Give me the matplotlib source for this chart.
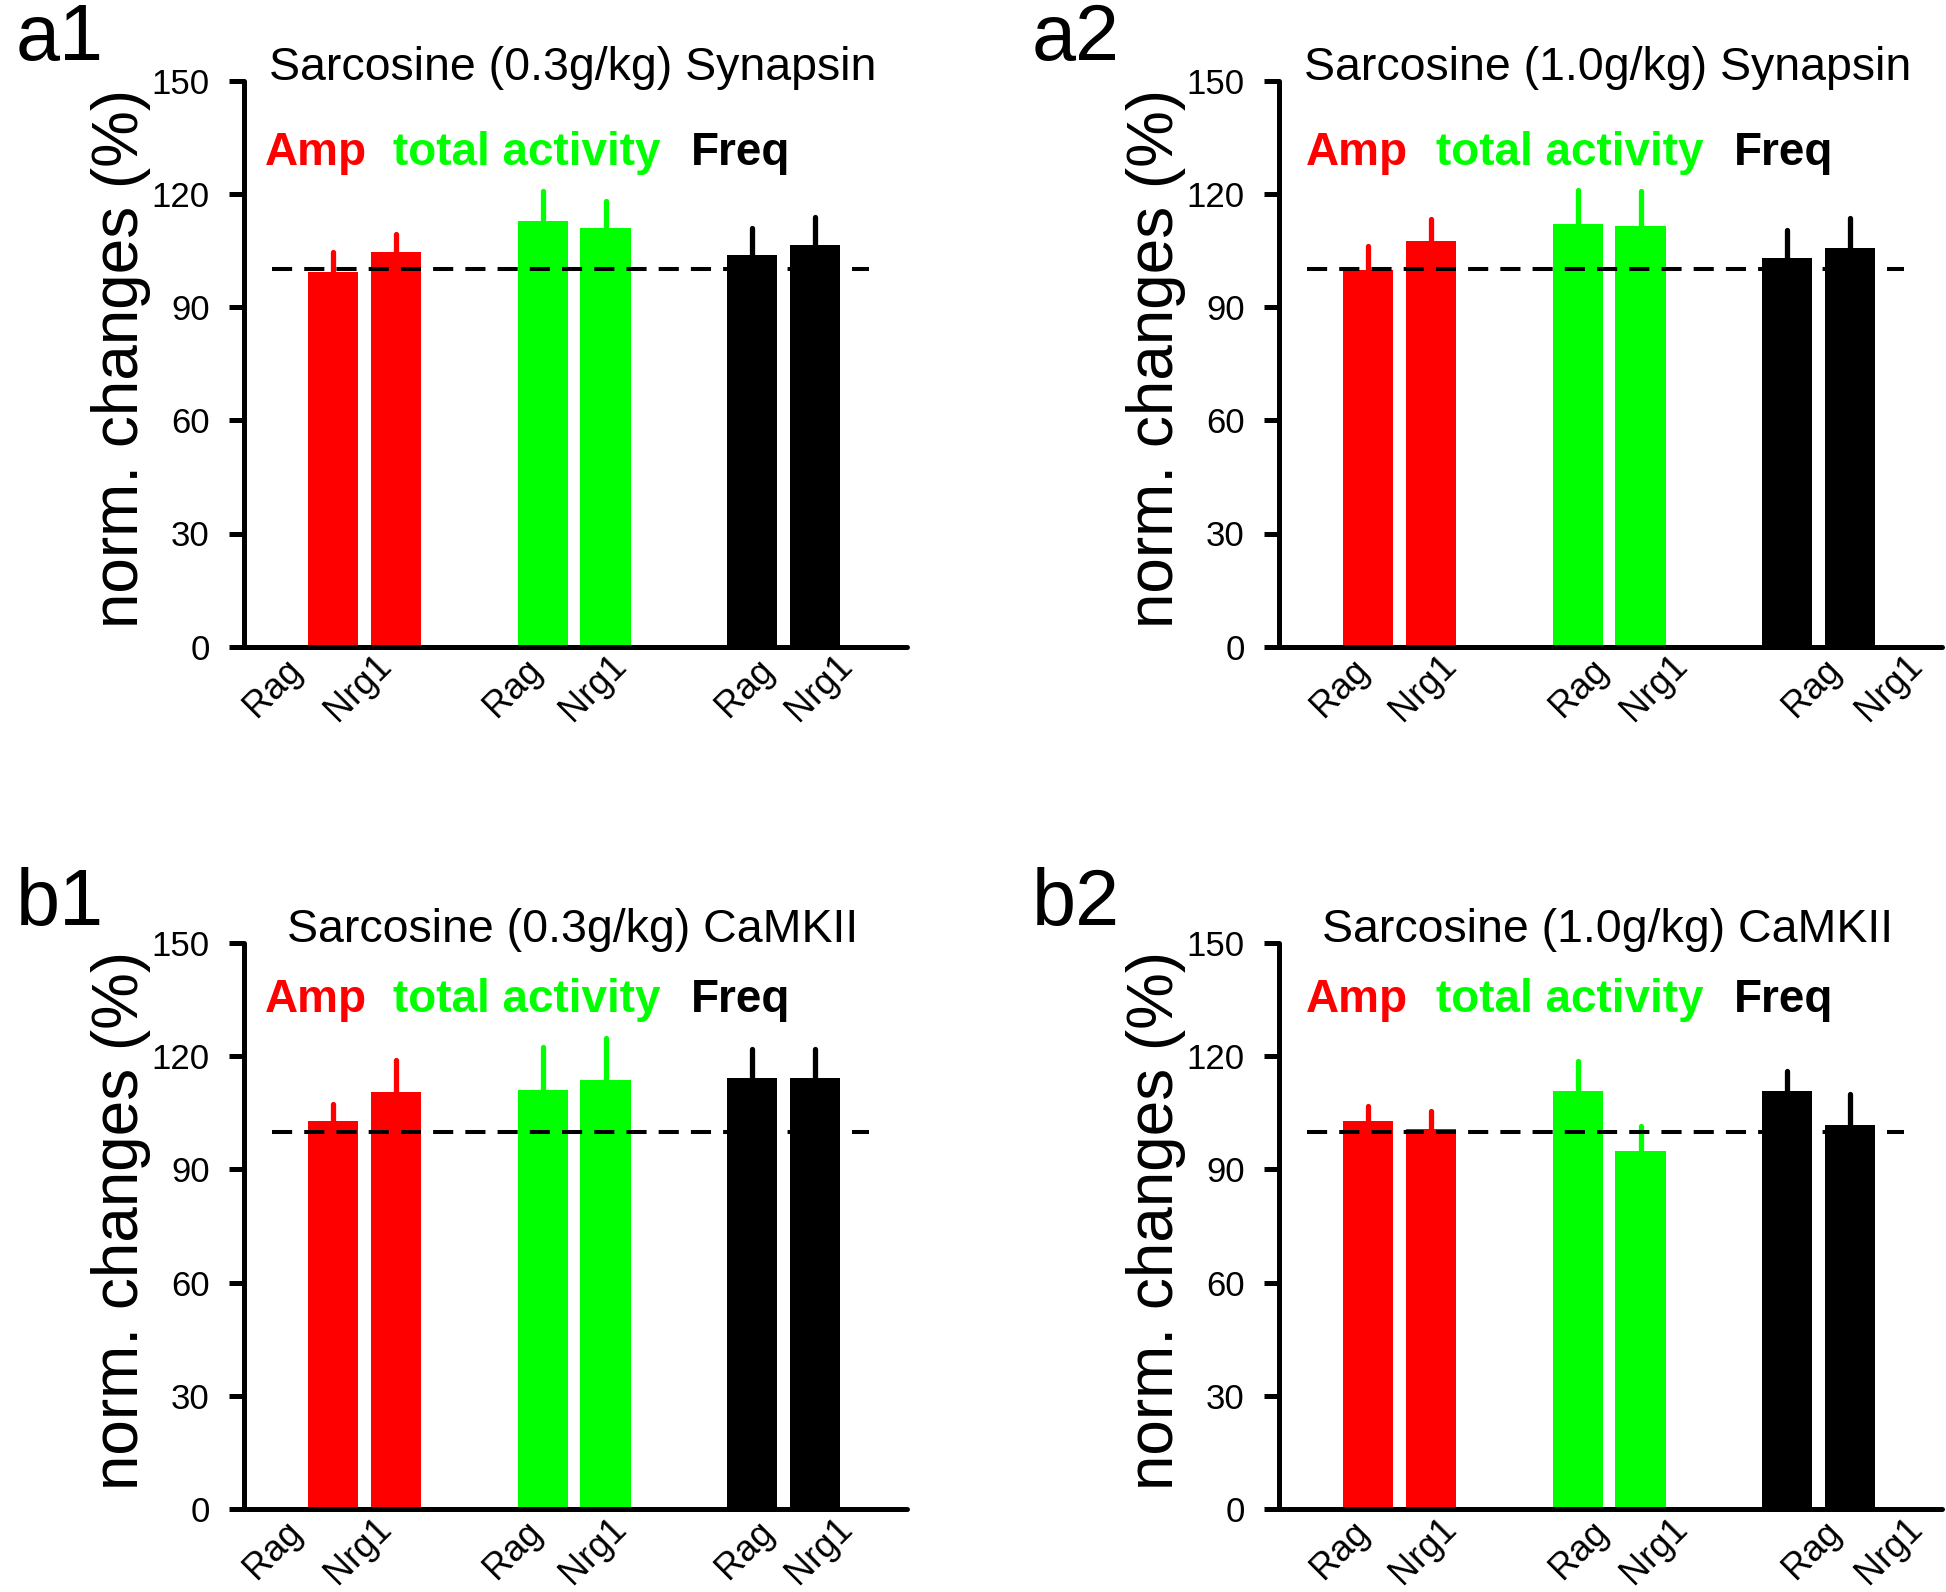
import matplotlib
matplotlib.use("Agg")
import matplotlib.pyplot as plt
import matplotlib.transforms as mtransforms
import numpy as np

plt.rcParams['font.family'] = ['Liberation Sans', 'DejaVu Sans']

# ---------------- data ----------------
tick_labels = ["Rag", "Nrg1", "Rag", "Nrg1", "Rag", "Nrg1"]
measures = ["Amp", "total activity", "Freq"]
measure_colors = ["#FF0000", "#00FF00", "#000000"]

panel_ids = ["a1", "a2", "b1", "b2"]
titles = ["Sarcosine (0.3g/kg) Synapsin", "Sarcosine (1.0g/kg) Synapsin",
          "Sarcosine (0.3g/kg) CaMKII", "Sarcosine (1.0g/kg) CaMKII"]

# bar means (%), order: Amp Rag, Amp Nrg1, total Rag, total Nrg1, Freq Rag, Freq Nrg1
means_a1 = [99.3, 104.6, 112.9, 110.9, 103.9, 106.4]
upper_a1 = [104.7, 109.5, 120.9, 118.0, 110.9, 113.9]
means_a2 = [99.8, 107.6, 111.9, 111.5, 103.1, 105.6]
upper_a2 = [106.2, 113.3, 121.1, 120.8, 110.4, 113.6]
means_b1 = [102.8, 110.4, 111.1, 113.6, 114.1, 114.1]
upper_b1 = [107.4, 119.1, 122.4, 124.8, 122.0, 122.0]
means_b2 = [102.8, 100.6, 110.7, 94.9, 110.7, 101.8]
upper_b2 = [106.8, 105.4, 118.6, 101.6, 116.0, 110.1]

baseline = 100
y_ticks = [0, 30, 60, 90, 120, 150]
y_label = "norm. changes (%)"

all_means = [means_a1, means_a2, means_b1, means_b2]
all_upper = [upper_a1, upper_a2, upper_b1, upper_b2]

# ---------------- layout ----------------
W, H = 1946, 1592
fig = plt.figure(figsize=(W / 100, H / 100), dpi=100)

ax_w = 663 / W
ax_h = 566 / H
lefts = [244 / W, 1279 / W, 244 / W, 1279 / W]
bottoms = [1 - 646.7 / H, 1 - 646.7 / H, 1 - 1509 / H, 1 - 1509 / H]

bar_offset = 0.15
bar_width = 0.24
label_x_left = [-0.437, -0.031, 0.708, 1.09, 1.815, 2.168]
label_x_right = [-0.284, 0.112, 0.856, 1.214, 1.968, 2.336]
legend_x_left = [0.032, 0.224, 0.674]
legend_x_right = [0.041, 0.237, 0.686]
legend_y = [127.7, 127.7, 131.7, 131.7]
panel_label_pos = [(16 / W, 1 - 60 / H), (1032 / W, 1 - 60 / H),
                   (16 / W, 1 - 925 / H), (1032 / W, 1 - 925 / H)]

group_centers = np.arange(len(measures))
bar_x = np.ravel([[g - bar_offset, g + bar_offset] for g in group_centers])
bar_colors = np.repeat(measure_colors, 2)

for i in range(4):
    ax = fig.add_axes([lefts[i], bottoms[i], ax_w, ax_h])
    means = np.array(all_means[i])
    upper = np.array(all_upper[i])

    ax.bar(bar_x, means, width=bar_width, color=bar_colors, zorder=2, linewidth=0)
    for x, m, u, c in zip(bar_x, means, upper, bar_colors):
        ax.plot([x, x], [m, u], color=c, lw=3.8, solid_capstyle='round', zorder=2)

    ax.hlines(baseline, -0.441, 2.407, colors='black', lw=2.9,
              linestyles=(0, (5.0, 3.0)), zorder=3)

    ax.set_xlim(-0.575, 2.588)
    ax.set_ylim(0, 150)
    ax.set_yticks(y_ticks)
    ax.set_yticklabels([str(t) for t in y_ticks], fontsize=25)
    ax.set_xticks([])
    ax.tick_params(axis='y', direction='out', length=10.8, width=3.6, pad=14)
    for s in ['top', 'right']:
        ax.spines[s].set_visible(False)
    for s in ['left', 'bottom']:
        ax.spines[s].set_linewidth(3.6)
        ax.spines[s].set_capstyle('round')

    lx = label_x_left if i % 2 == 0 else label_x_right
    for x, t in zip(lx, tick_labels):
        ax.text(x, -11, t, rotation=45, ha='center', va='center',
                fontsize=26, clip_on=False)

    ax.text(0.496, 1.002, titles[i], transform=ax.transAxes, ha='center',
            va='baseline', fontsize=33.5)

    legx = legend_x_left if i % 2 == 0 else legend_x_right
    blend = mtransforms.blended_transform_factory(ax.transAxes, ax.transData)
    for x, t, c in zip(legx, measures, measure_colors):
        ax.text(x, legend_y[i], t, transform=blend, ha='left', va='baseline',
                fontsize=33, fontweight='bold', color=c)

    ax.text(-0.186, 0.51, y_label, transform=ax.transAxes, rotation=90,
            ha='center', va='center', fontsize=46)

    px, py = panel_label_pos[i]
    fig.text(px, py, panel_ids[i], ha='left', va='baseline', fontsize=57)

fig.savefig("out.png", dpi=100)
